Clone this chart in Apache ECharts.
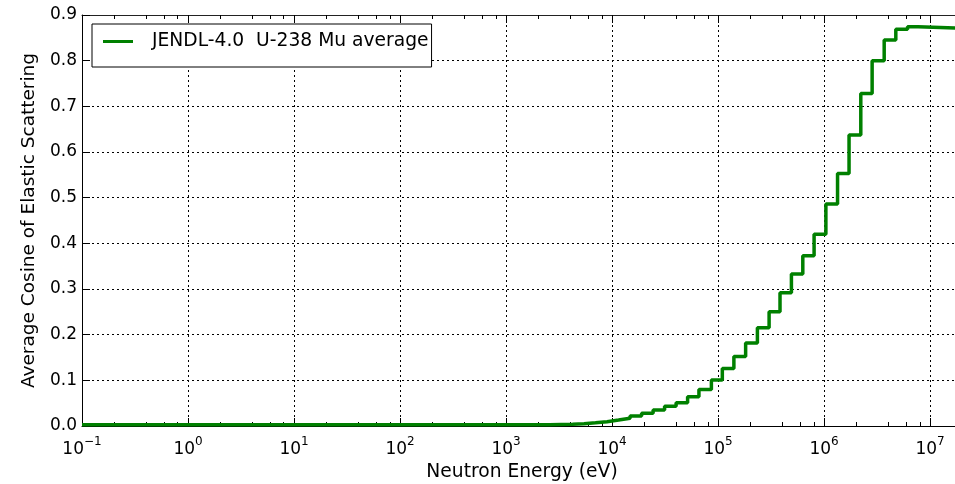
<!DOCTYPE html>
<html>
<head>
<meta charset="utf-8">
<script src="https://cdn.jsdelivr.net/npm/echarts@6/dist/echarts.min.js"></script>
<style>
  html, body { margin: 0; padding: 0; background: #fff; }
  #chart { width: 955px; height: 484px; }
</style>
</head>
<body>
<div id="chart"></div>
<script>
// Group lower energy edges (eV); the last entry closes the final group.
const stepEnergies = [
  0.1, 1000, 2570, 3300, 4240, 5440, 6980, 8970, 11520, 14790,
  19000, 24400, 31300, 40200, 51600, 66000, 86500, 109700, 141000, 182000,
  235000, 303000, 384000, 492000, 630000, 805000, 1040000, 1340000, 1720000, 2220000,
  2840000, 3690000, 4750000, 6130000, 7710000, 20000000
];
// Average cosine (mu-bar) of elastic scattering in each group.
const muValues = [
  0.0028, 0.003, 0.0035, 0.004, 0.005, 0.007, 0.0095, 0.013, 0.017, 0.022,
  0.028, 0.035, 0.043, 0.051, 0.064, 0.080, 0.101, 0.126, 0.152, 0.182,
  0.215, 0.250, 0.292, 0.333, 0.373, 0.420, 0.486, 0.553, 0.637, 0.728,
  0.800, 0.845, 0.869, 0.874, 0.871, 0.871
];
const seriesName = 'JENDL-4.0  U-238 Mu average';
const xMajorTicks = [0.1, 1, 10, 100, 1e3, 1e4, 1e5, 1e6, 1e7];
const xMinorMultipliers = [2, 4, 6, 8];
const yTickLabels = ['0.0', '0.1', '0.2', '0.3', '0.4', '0.5', '0.6', '0.7', '0.8', '0.9'];

const xMinorTicks = [];
xMajorTicks.slice(0, -1).forEach(d => xMinorMultipliers.forEach(m => xMinorTicks.push(+(m * d).toPrecision(3))));

const FONT = 'DejaVu Sans';
const X_MIN = 0.1, X_MAX = 2e7;

function decadeLabel(v) {
  const lg = Math.log10(v);
  const e = Math.round(lg);
  if (Math.abs(lg - e) > 1e-6) return '';
  return '{b|10}{s|' + (e < 0 ? '\u2212' + (-e) : e) + '}';
}

const logBase = { type: 'log', logBase: 10, min: X_MIN, max: X_MAX, gridIndex: 0 };
const hiddenLabel = { show: false };

const chart = echarts.init(document.getElementById('chart'), null, { renderer: 'canvas' });
chart.setOption({
  animation: false,
  backgroundColor: '#fff',
  grid: { left: 82, top: 15, right: -7, bottom: 58, containLabel: false, outerBoundsMode: 'none' },
  legend: {
    data: [seriesName],
    left: 92, top: 24,
    orient: 'horizontal',
    icon: 'rect',
    itemWidth: 30, itemHeight: 3,
    padding: [8, 3, 16, 11],
    borderColor: '#000', borderWidth: 1,
    backgroundColor: '#fff',
    selectedMode: false,
    textStyle: { fontFamily: FONT, fontSize: 18.7, color: '#000', lineHeight: 19, padding: [0, 0, 0, 14] }
  },
  xAxis: [
    Object.assign({}, logBase, {
      position: 'bottom',
      name: 'Neutron Energy (eV)',
      nameLocation: 'middle', nameGap: 29,
      nameTextStyle: { fontFamily: FONT, fontSize: 18.7, color: '#000' },
      axisLine: { show: true, onZero: false, lineStyle: { color: '#000', width: 1 } },
      axisTick: { show: true, inside: true, length: 8, lineStyle: { color: '#000', width: 1 } },
      axisLabel: {
        margin: 2,
        formatter: decadeLabel,
        rich: {
          b: { fontFamily: FONT, fontSize: 17, color: '#000', lineHeight: 30, verticalAlign: 'bottom' },
          s: { fontFamily: FONT, fontSize: 12, color: '#000', lineHeight: 12, verticalAlign: 'top', padding: [8, 0, 0, 0] }
        }
      },
      splitLine: { show: true, lineStyle: { color: '#000', width: 1, type: [2, 3] } }
    }),
    Object.assign({}, logBase, {
      position: 'bottom',
      axisLine: { show: false },
      axisTick: { show: true, inside: true, length: 4, customValues: xMinorTicks, lineStyle: { color: '#000', width: 1 } },
      axisLabel: hiddenLabel,
      splitLine: { show: false }
    }),
    Object.assign({}, logBase, {
      position: 'top',
      axisLine: { show: true, onZero: false, lineStyle: { color: '#222', width: 1 } },
      axisTick: { show: true, inside: true, length: 8, lineStyle: { color: '#000', width: 1 } },
      axisLabel: hiddenLabel,
      splitLine: { show: false }
    }),
    Object.assign({}, logBase, {
      position: 'top',
      axisLine: { show: false },
      axisTick: { show: true, inside: true, length: 4, customValues: xMinorTicks, lineStyle: { color: '#000', width: 1 } },
      axisLabel: hiddenLabel,
      splitLine: { show: false }
    })
  ],
  yAxis: [{
    type: 'value',
    min: 0, max: 0.9, interval: 0.1,
    position: 'left',
    name: 'Average Cosine of Elastic Scattering',
    nameLocation: 'middle', nameGap: 43,
    nameTextStyle: { fontFamily: FONT, fontSize: 18.5, color: '#000' },
    axisLine: { show: true, onZero: false, lineStyle: { color: '#000', width: 1 } },
    axisTick: { show: true, inside: true, length: 8, lineStyle: { color: '#000', width: 1 } },
    axisLabel: {
      margin: 5,
      fontFamily: FONT, fontSize: 17, color: '#000',
      formatter: v => yTickLabels[Math.round(v * 10)]
    },
    splitLine: { show: true, lineStyle: { color: '#000', width: 1, type: [2, 3] } }
  }],
  series: [{
    name: seriesName,
    type: 'line',
    xAxisIndex: 0, yAxisIndex: 0,
    step: 'end',
    showSymbol: false,
    symbol: 'none',
    color: '#008000',
    lineStyle: { color: '#008000', width: 3.5 },
    data: stepEnergies.map((e, i) => [e, muValues[i]])
  }]
});
</script>
</body>
</html>
